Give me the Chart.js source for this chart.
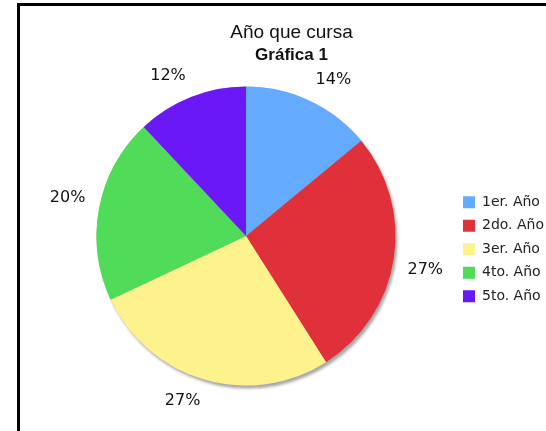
<!DOCTYPE html>
<html>
<head>
<meta charset="utf-8">
<script src="https://cdn.jsdelivr.net/npm/chart.js@4.4.1/dist/chart.umd.min.js"></script>
<style>
  html, body { margin: 0; padding: 0; background: #fff; overflow: hidden; width: 546px; height: 431px; }
  #frame { position: absolute; left: 17px; top: 3px; width: 600px; height: 500px; border: 3px solid #000; box-sizing: border-box; }
  #wrap { position: absolute; left: 20px; top: 6px; width: 536px; height: 425px; }
</style>
</head>
<body>
<div id="frame"></div>
<div id="wrap"><canvas id="myChart"></canvas></div>
<script>
// datos
let labels = ['1er. Año', '2do. Año', '3er. Año', '4to. Año', '5to. Año'];
let percents = [14, 27, 27, 20, 12];
let colors = ['#64aaff', '#e0303a', '#fdf28c', '#50dc58', '#6a18f6'];

// sombra gris bajo el círculo
let shadowPlugin = {
    id: 'pieShadow',
    beforeDatasetsDraw(chart) {
        let arc = chart.getDatasetMeta(0).data[0];
        if (!arc) return;
        let c = chart.ctx;
        c.save();
        c.shadowColor = 'rgba(0,0,0,0.35)';
        c.shadowBlur = 3;
        c.shadowOffsetX = 2;
        c.shadowOffsetY = 3;
        c.fillStyle = '#bbb';
        c.beginPath();
        c.arc(arc.x, arc.y, arc.outerRadius, 0, Math.PI * 2);
        c.fill();
        c.restore();
    }
};

// porcentajes fuera del círculo
let pctPlugin = {
    id: 'pctLabels',
    afterDatasetsDraw(chart) {
        let c = chart.ctx;
        c.save();
        c.font = '16px "DejaVu Sans"';
        c.fillStyle = '#111';
        c.textAlign = 'center';
        c.textBaseline = 'middle';
        chart.getDatasetMeta(0).data.forEach((arc, i) => {
            let txt = percents[i] + '%';
            let w = c.measureText(txt).width;
            let mid = (arc.startAngle + arc.endAngle) / 2;
            let dx = Math.cos(mid), dy = Math.sin(mid);
            let r = arc.outerRadius + 14;
            let x = arc.x + dx * r + Math.sign(dx) * w / 2;
            let y = arc.y + dy * r + Math.sign(dy) * 8;
            c.fillText(txt, x, y);
        });
        c.restore();
    }
};

let ctx = document.getElementById('myChart').getContext('2d');
let chart = new Chart(ctx, {
    type: 'pie',
    data: {
        labels: labels,
        datasets: [{
            data: percents,
            backgroundColor: colors,
            borderWidth: 0
        }]
    },
    options: {
        responsive: true,
        maintainAspectRatio: false,
        animation: false,
        layout: {
            padding: { left: 18.5, right: 11.5, top: 0, bottom: 45.5 }
        },
        plugins: {
            title: {
                display: true,
                text: 'Año que cursa',
                color: '#111',
                font: { family: '"Liberation Sans", Arial', size: 19, weight: 'normal' },
                padding: { top: 15.4, bottom: 0 }
            },
            subtitle: {
                display: true,
                text: 'Gráfica 1',
                color: '#111',
                font: { family: '"Liberation Sans", Arial', size: 17, weight: 'bold' },
                padding: { top: 1.3, bottom: 20.6 }
            },
            legend: {
                position: 'right',
                fullSize: false,
                maxWidth: 91,
                title: { display: true, text: ' ', padding: 0, font: { size: 22 } },
                labels: {
                    boxWidth: 12,
                    boxHeight: 12,
                    padding: 9.5,
                    color: '#222',
                    font: { family: '"DejaVu Sans"', size: 14 }
                }
            },
            tooltip: { enabled: false }
        }
    },
    plugins: [shadowPlugin, pctPlugin]
});
</script>
</body>
</html>
